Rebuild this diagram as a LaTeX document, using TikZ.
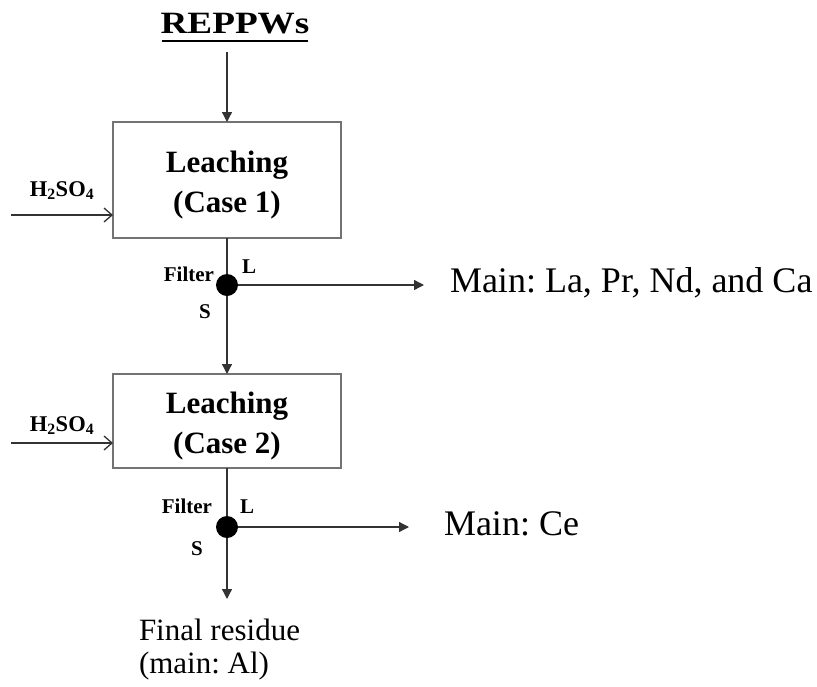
\documentclass[tikz,border=0pt]{standalone}
\usepackage{fontspec}
\setmainfont{Liberation Serif}
\frenchspacing
\usetikzlibrary{arrows.meta}
\begin{document}
\begin{tikzpicture}[x=1pt,y=-1pt,
  every node/.style={inner sep=0pt,outer sep=0pt},
  flow/.style={line width=1.3pt,draw=black!80},
  arr/.style={flow,-{Triangle[length=10pt,width=10pt]}},
  acid/.style={flow,-{Straight Barb[length=8pt,width=14pt,line width=1.3pt]}},
  unit/.style={draw=black!55,line width=1.3pt,minimum width=228pt},
  unitlabel/.style={font=\fontsize{31}{40}\selectfont\bfseries,align=center,anchor=north},
  small/.style={font=\fontsize{21}{24}\selectfont\bfseries},
  acidlabel/.style={font=\fontsize{22.5}{24}\selectfont\bfseries,anchor=base},
  product/.style={font=\fontsize{36}{40}\selectfont,anchor=base west},
  residue/.style={font=\fontsize{31}{34}\selectfont,align=left,anchor=base west},
  splitter/.style={circle,fill=black,minimum size=22pt}]
\useasboundingbox (0,0) rectangle (817,686);

% feed
\node[font=\fontsize{31}{34}\selectfont\bfseries,anchor=base,xscale=1.2,transform shape] (feed) at (235,33) {REPPWs};
\draw[line width=1.6pt] (162,41) -- (308,41);
\coordinate (in0) at (227,52);

% first leaching stage
\node[unit,minimum height=116pt] (box1) at (227,180) {};
\node[unitlabel] (lab1) at (227,151) {Leaching\\(Case 1)};
\coordinate (acid1) at (11,215);
\node[acidlabel] (h1) at (62,196) {H\textsubscript{2}SO\textsubscript{4}};
\draw[arr] (in0) -- (box1.north);
\draw[acid] (acid1) -- (acid1 -| box1.west);

% first filter
\node[splitter] (f1) at (227,285) {};
\node[small,anchor=base east] (ft1) at (214,281) {Filter};
\node[small,anchor=base west] (l1) at (242,273) {L};
\node[small,anchor=base] (s1) at (205,318) {S};
\coordinate (out1) at (424,285);
\node[product] (m1) at (450,292) {Main: La, Pr, Nd, and Ca};
\draw[flow] (box1.south) -- (f1);
\draw[arr] (f1) -- (out1);

% second leaching stage
\node[unit,minimum height=94pt] (box2) at (227,421) {};
\node[unitlabel] (lab2) at (227,392) {Leaching\\(Case 2)};
\coordinate (acid2) at (11,443);
\node[acidlabel] (h2) at (62,431) {H\textsubscript{2}SO\textsubscript{4}};
\draw[arr] (f1) -- (box2.north);
\draw[acid] (acid2) -- (acid2 -| box2.west);

% second filter
\node[splitter] (f2) at (227,527) {};
\node[small,anchor=base east] (ft2) at (212,513) {Filter};
\node[small,anchor=base west] (l2) at (240,513) {L};
\node[small,anchor=base] (s2) at (197,555) {S};
\coordinate (out2) at (409,527);
\node[product] (m2) at (444,535) {Main: Ce};
\coordinate (out3) at (227,599);
\draw[flow] (box2.south) -- (f2);
\draw[arr] (f2) -- (out2);
\draw[arr] (f2) -- (out3);

% residue
\node[residue] (res) at (139,640) {Final residue};
\node[residue] (res2) at (139,673) {(main: Al)};
\end{tikzpicture}
\end{document}
